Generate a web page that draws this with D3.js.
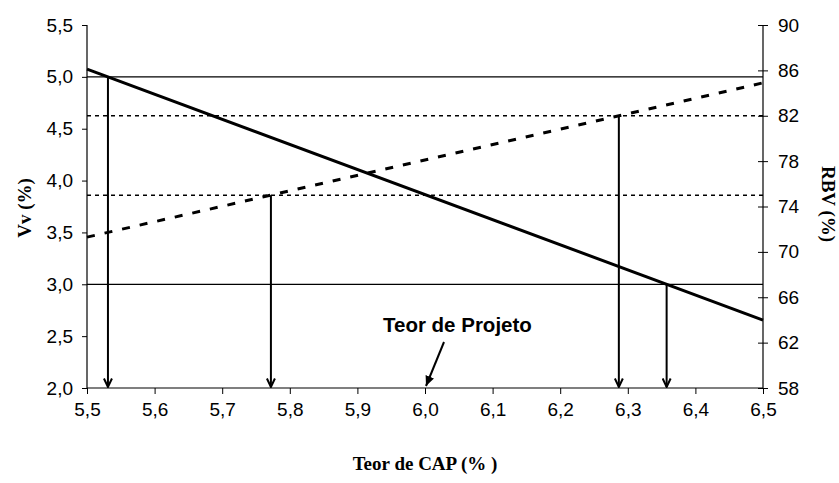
<!DOCTYPE html>
<html>
<head>
<meta charset="utf-8">
<script src="https://cdn.jsdelivr.net/npm/d3@7"></script>
<style>
  html, body { margin: 0; padding: 0; background: #fff; }
  svg { display: block; }
  .tick text { font-family: Arial, "Liberation Sans", sans-serif; font-size: 19px; fill: #000; }
  .title { font-family: "Times New Roman", "Liberation Serif", serif; font-weight: bold; font-size: 19px; fill: #000; }
</style>
</head>
<body>
<svg id="chart" width="839" height="483"></svg>
<script>
// Binder content (x), air voids Vv (left axis) and voids filled with binder RBV (right axis)
const capTicks = [5.5, 5.6, 5.7, 5.8, 5.9, 6.0, 6.1, 6.2, 6.3, 6.4, 6.5];
const vvTicks = [2.0, 2.5, 3.0, 3.5, 4.0, 4.5, 5.0, 5.5];
const rbvTicks = [58, 62, 66, 70, 74, 78, 82, 86, 90];

const capValues = [5.5, 6.5];
const vvValues = [5.075, 2.655];
const rbvValues = [71.3, 84.9];

// Specification limits: Vv between 3 and 5 %, RBV between 75 and 82 %
const vvLimits = [5.0, 3.0];
const rbvLimits = [75, 82];

// Design binder content
const designCap = 6.0;
const designLabel = "Teor de Projeto";

const svg = d3.select("#chart");
const m = { left: 87, right: 763, top: 25, bottom: 388 };

const x = d3.scaleLinear().domain([5.5, 6.5]).range([m.left, m.right]);
const yL = d3.scaleLinear().domain([2.0, 5.5]).range([m.bottom, m.top]);
const yR = d3.scaleLinear().domain([58, 90]).range([m.bottom, m.top]);

const comma = f => v => d3.format(f)(v).replace(".", ",");

// arrowheads (drawn pointing along +x, rotated by orient="auto")
const defs = svg.append("defs");
defs.append("marker").attr("id", "openHead")
  .attr("viewBox", "0 0 10 10").attr("refX", 9.5).attr("refY", 5)
  .attr("markerWidth", 10).attr("markerHeight", 10)
  .attr("markerUnits", "userSpaceOnUse").attr("orient", "auto")
  .append("path").attr("d", "M1,1 L9.5,5 L1,9").attr("fill", "none")
  .attr("stroke", "#000").attr("stroke-width", 2);
defs.append("marker").attr("id", "solidHead")
  .attr("viewBox", "0 0 10 10").attr("refX", 10).attr("refY", 5)
  .attr("markerWidth", 10).attr("markerHeight", 10)
  .attr("markerUnits", "userSpaceOnUse").attr("orient", "auto")
  .append("path").attr("d", "M0,0.5 L10,5 L0,9.5 Z").attr("fill", "#000");

// axes
const xAxis = d3.axisBottom(x).tickValues(capTicks).tickFormat(comma(".1f")).tickSize(6).tickPadding(9);
const lAxis = d3.axisLeft(yL).tickValues(vvTicks).tickFormat(comma(".1f")).tickSize(5).tickPadding(9);
const rAxis = d3.axisRight(yR).tickValues(rbvTicks).tickFormat(d3.format("d")).tickSize(5).tickPadding(10);

const gx = svg.append("g").attr("transform", `translate(0,${m.bottom})`).call(xAxis);
const gl = svg.append("g").attr("transform", `translate(${m.left},0)`).call(lAxis);
const gr = svg.append("g").attr("transform", `translate(${m.right},0)`).call(rAxis);
[gx, gl, gr].forEach(g => {
  g.select(".domain").attr("stroke", "#000").attr("stroke-width", 1.2);
  g.selectAll(".tick line").attr("stroke", "#000").attr("stroke-width", 1);
});
gx.select(".domain").attr("d", `M${m.left},0H${m.right}`);
gl.select(".domain").attr("d", `M0,${m.top}V${m.bottom}`);
gr.select(".domain").attr("d", `M0,${m.top}V${m.bottom}`);
gr.selectAll(".tick line").attr("x1", -5);

const plot = svg.append("g");

// limit lines
plot.selectAll(".vvlim").data(vvLimits).join("line")
  .attr("x1", m.left).attr("x2", m.right)
  .attr("y1", d => yL(d)).attr("y2", d => yL(d))
  .attr("stroke", "#000").attr("stroke-width", 1.3);
plot.selectAll(".rbvlim").data(rbvLimits).join("line")
  .attr("x1", m.left).attr("x2", m.right)
  .attr("y1", d => yR(d)).attr("y2", d => yR(d))
  .attr("stroke", "#000").attr("stroke-width", 1.5).attr("stroke-dasharray", "4,4");

// series lines
const pts = (vals) => capValues.map((c, i) => [c, vals[i]]);
plot.append("path").datum(pts(rbvValues))
  .attr("d", d3.line().x(d => x(d[0])).y(d => yR(d[1])))
  .attr("fill", "none").attr("stroke", "#000").attr("stroke-width", 3)
  .attr("stroke-dasharray", "8,10");
plot.append("path").datum(pts(vvValues))
  .attr("d", d3.line().x(d => x(d[0])).y(d => yL(d[1])))
  .attr("fill", "none").attr("stroke", "#000").attr("stroke-width", 3);

// binder content where each series meets a limit
const crossAt = (vals, level) => capValues[0] + (level - vals[0]) / (vals[1] - vals[0]) * (capValues[1] - capValues[0]);
const drops = [
  ...vvLimits.map(v => ({ cap: crossAt(vvValues, v), y: yL(v) })),
  ...rbvLimits.map(v => ({ cap: crossAt(rbvValues, v), y: yR(v) }))
];
plot.selectAll(".drop").data(drops).join("line")
  .attr("x1", d => x(d.cap)).attr("x2", d => x(d.cap))
  .attr("y1", d => d.y).attr("y2", m.bottom - 1)
  .attr("stroke", "#000").attr("stroke-width", 2)
  .attr("marker-end", "url(#openHead)");

// design content annotation
svg.append("text").attr("x", 383).attr("y", 332)
  .attr("font-family", "Arial, 'Liberation Sans', sans-serif")
  .attr("font-weight", "bold").attr("font-size", 20.5).attr("fill", "#000")
  .text(designLabel);
svg.append("line")
  .attr("x1", x(designCap) + 19).attr("y1", 342)
  .attr("x2", x(designCap) + 1).attr("y2", m.bottom - 2)
  .attr("stroke", "#000").attr("stroke-width", 2)
  .attr("marker-end", "url(#solidHead)");

// axis titles
svg.append("text").attr("class", "title").attr("font-size", 21)
  .attr("transform", "translate(31,208) rotate(-90)")
  .attr("text-anchor", "middle").text("Vv (%)");
svg.append("text").attr("class", "title")
  .attr("transform", "translate(822,204) rotate(90)")
  .attr("text-anchor", "middle").text("RBV (%)");
svg.append("text").attr("class", "title")
  .attr("x", 425).attr("y", 470)
  .attr("text-anchor", "middle").text("Teor de CAP (% )");
</script>
</body>
</html>
